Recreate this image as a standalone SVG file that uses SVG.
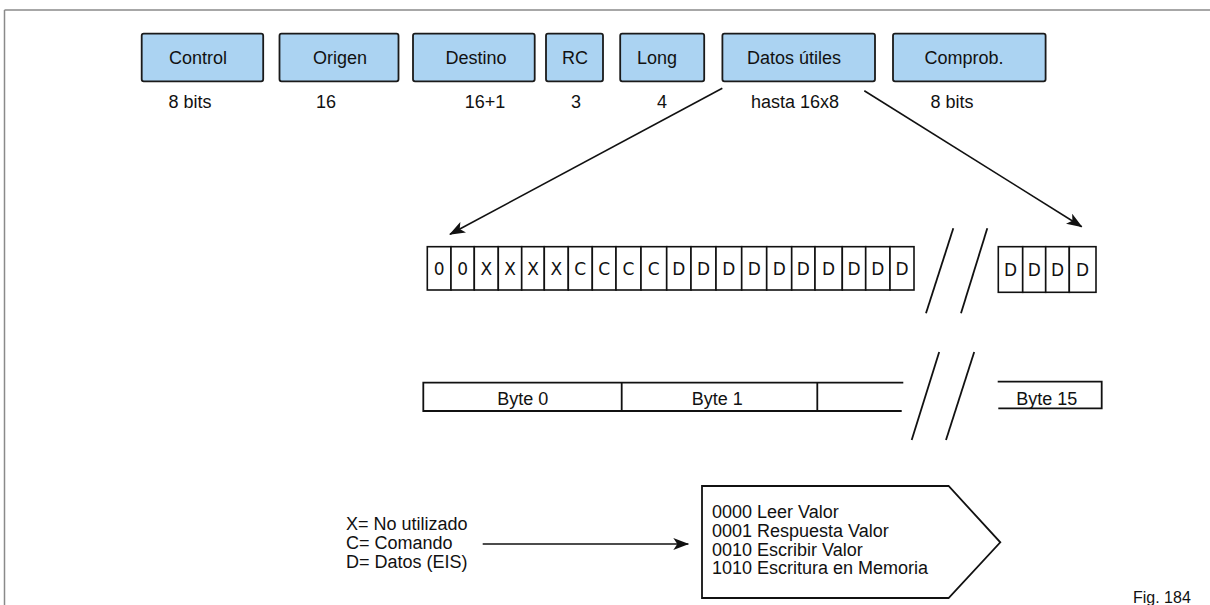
<svg xmlns="http://www.w3.org/2000/svg" width="1210" height="605" viewBox="0 0 1210 605">
<defs>
<style>
.t{font-family:"Liberation Sans",Arial,sans-serif;font-size:18px;fill:#111}
.c{text-anchor:middle}
.bit{font-family:"DejaVu Sans",sans-serif;font-size:17px;fill:#111;text-anchor:middle}
.box{fill:#abd3f2;stroke:#1a1a1a;stroke-width:1.8}
.ln{stroke:#111;stroke-width:1.8;fill:none}
.cell{fill:#fff;stroke:#111;stroke-width:1.6}
.arr{stroke:#111;stroke-width:1.6;fill:none;marker-end:url(#ah)}
</style>
<marker id="ah" markerWidth="16" markerHeight="12" refX="15" refY="6" orient="auto" markerUnits="userSpaceOnUse">
<path d="M0,0 L16,6 L0,12 L4,6 Z" fill="#111"/>
</marker>
</defs>
<rect width="1210" height="605" fill="#fff"/>
<g id="frame">
<line x1="4.5" y1="10" x2="1210" y2="10" stroke="#8a8a8a" stroke-width="1.5"/>
<line x1="4.5" y1="10" x2="4.5" y2="605" stroke="#8a8a8a" stroke-width="1.5"/>
</g>
<g id="field-control"><rect class="box" x="141.7" y="33.7" width="121.5" height="47.6" rx="2"/><text class="t c" x="198" y="64">Control</text><text class="t c" x="190" y="108">8 bits</text></g>
<g id="field-origen"><rect class="box" x="279.5" y="33.7" width="119" height="47.6" rx="2"/><text class="t c" x="340" y="64">Origen</text><text class="t c" x="326" y="108">16</text></g>
<g id="field-destino"><rect class="box" x="413" y="33.7" width="121.7" height="47.6" rx="2"/><text class="t c" x="476" y="64">Destino</text><text class="t c" x="485" y="108">16+1</text></g>
<g id="field-rc"><rect class="box" x="546" y="33.7" width="57" height="47.6" rx="2"/><text class="t c" x="575" y="64">RC</text><text class="t c" x="576" y="108">3</text></g>
<g id="field-long"><rect class="box" x="620.2" y="33.7" width="84" height="47.6" rx="2"/><text class="t c" x="657" y="64">Long</text><text class="t c" x="662" y="108">4</text></g>
<g id="field-datos"><rect class="box" x="722.4" y="33.7" width="152.6" height="47.6" rx="2"/><text class="t c" x="794" y="64">Datos útiles</text><text class="t c" x="795" y="108">hasta 16x8</text></g>
<g id="field-comprob"><rect class="box" x="893" y="33.7" width="152.6" height="47.6" rx="2"/><text class="t c" x="964" y="64">Comprob.</text><text class="t c" x="952" y="108">8 bits</text></g>
<g id="bits-row">
<rect class="cell" x="427.3" y="246.7" width="23.7" height="43.3"/><text class="bit" x="439.2" y="274.5">0</text>
<rect class="cell" x="451" y="246.7" width="23.3" height="43.3"/><text class="bit" x="462.7" y="274.5">0</text>
<rect class="cell" x="474.3" y="246.7" width="24" height="43.3"/><text class="bit" x="486.3" y="274.5">X</text>
<rect class="cell" x="498.3" y="246.7" width="23.4" height="43.3"/><text class="bit" x="510" y="274.5">X</text>
<rect class="cell" x="521.7" y="246.7" width="22.6" height="43.3"/><text class="bit" x="533" y="274.5">X</text>
<rect class="cell" x="544.3" y="246.7" width="24" height="43.3"/><text class="bit" x="556.3" y="274.5">X</text>
<rect class="cell" x="568.3" y="246.7" width="24" height="43.3"/><text class="bit" x="580.3" y="274.5">C</text>
<rect class="cell" x="592.3" y="246.7" width="23.7" height="43.3"/><text class="bit" x="604.2" y="274.5">C</text>
<rect class="cell" x="616" y="246.7" width="25" height="43.3"/><text class="bit" x="628.5" y="274.5">C</text>
<rect class="cell" x="641" y="246.7" width="25.7" height="43.3"/><text class="bit" x="653.8" y="274.5">C</text>
<rect class="cell" x="666.7" y="246.7" width="24.3" height="43.3"/><text class="bit" x="678.8" y="274.5">D</text>
<rect class="cell" x="691" y="246.7" width="25" height="43.3"/><text class="bit" x="703.5" y="274.5">D</text>
<rect class="cell" x="716" y="246.7" width="25.7" height="43.3"/><text class="bit" x="728.8" y="274.5">D</text>
<rect class="cell" x="741.7" y="246.7" width="25" height="43.3"/><text class="bit" x="754.2" y="274.5">D</text>
<rect class="cell" x="766.7" y="246.7" width="25" height="43.3"/><text class="bit" x="779.2" y="274.5">D</text>
<rect class="cell" x="791.7" y="246.7" width="23.3" height="43.3"/><text class="bit" x="803.3" y="274.5">D</text>
<rect class="cell" x="815" y="246.7" width="27.3" height="43.3"/><text class="bit" x="828.6" y="274.5">D</text>
<rect class="cell" x="842.3" y="246.7" width="23.4" height="43.3"/><text class="bit" x="854" y="274.5">D</text>
<rect class="cell" x="865.7" y="246.7" width="24.3" height="43.3"/><text class="bit" x="877.8" y="274.5">D</text>
<rect class="cell" x="890" y="246.7" width="24" height="43.3"/><text class="bit" x="902" y="274.5">D</text>
</g>
<g id="bits-end">
<rect class="cell" x="998.3" y="246.7" width="24.4" height="45.6"/><text class="bit" x="1010.5" y="275.5">D</text>
<rect class="cell" x="1022.7" y="246.7" width="23" height="45.6"/><text class="bit" x="1034.2" y="275.5">D</text>
<rect class="cell" x="1045.7" y="246.7" width="23.6" height="45.6"/><text class="bit" x="1057.5" y="275.5">D</text>
<rect class="cell" x="1069.3" y="246.7" width="26.7" height="45.6"/><text class="bit" x="1082.6" y="275.5">D</text>
</g>
<g id="bytes-row">
<path class="ln" d="M903.3,382.7 H423.3 V411 H901.7 M621.7,382.7 V411 M817.3,382.7 V411"/>
<text class="t c" x="522.7" y="405">Byte 0</text>
<text class="t c" x="717.3" y="405">Byte 1</text>
</g>
<g id="bytes-end">
<path class="ln" d="M997.7,381.7 H1101.7 V408.3 H998.3"/>
<text class="t c" x="1046.7" y="405">Byte 15</text>
</g>
<g id="breaks">
<line class="ln" x1="953.3" y1="228.3" x2="926" y2="313.3"/>
<line class="ln" x1="987.3" y1="228.3" x2="961" y2="313.3"/>
<line class="ln" x1="939.2" y1="352" x2="911.7" y2="440"/>
<line class="ln" x1="974.2" y1="352" x2="946" y2="440"/>
</g>
<g id="legend">
<text class="t" x="346" y="529.5">X= No utilizado</text>
<text class="t" x="346" y="548.5">C= Comando</text>
<text class="t" x="346" y="567.5">D= Datos (EIS)</text>
</g>
<g id="commands">
<polygon points="702,486 948.6,486 1000.3,542.3 948.6,598 702,598" fill="#fff" stroke="#111" stroke-width="1.8"/>
<text class="t" x="712" y="518">0000 Leer Valor</text>
<text class="t" x="712" y="537">0001 Respuesta Valor</text>
<text class="t" x="712" y="555.5">0010 Escribir Valor</text>
<text class="t" x="712" y="574">1010 Escritura en Memoria</text>
</g>
<g id="connectors">
<line class="arr" x1="722.3" y1="88.3" x2="450" y2="234.3"/>
<line class="arr" x1="864.3" y1="90.7" x2="1081.7" y2="226.7"/>
<line class="arr" x1="482.7" y1="544" x2="688.3" y2="544"/>
</g>
<text x="1133" y="602.5" style="font-family:'Liberation Sans',Arial,sans-serif;font-size:16px;fill:#111">Fig. 184</text>
</svg>
